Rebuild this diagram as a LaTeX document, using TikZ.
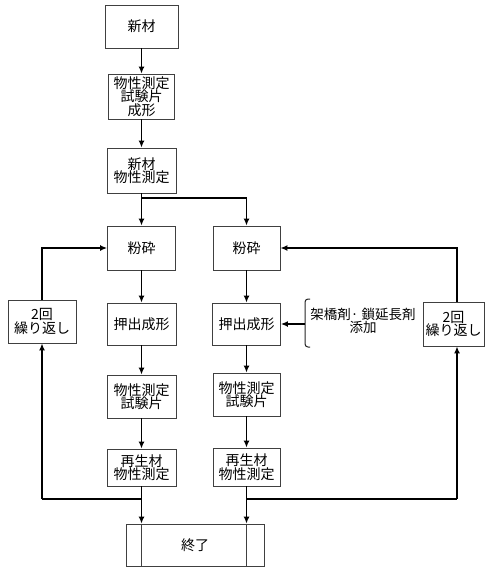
\documentclass[tikz,border=0pt]{standalone}
\usepackage{fontspec}
\newfontfamily\jp{Noto Sans CJK JP}
\usetikzlibrary{arrows.meta}
\begin{document}
\begin{tikzpicture}[x=1pt,y=-1pt,
  box/.style={draw=black!75, line width=0.8pt, fill=white, inner sep=0pt,
    align=center, font=\jp\fontsize{14}{13.5}\selectfont},
  flow/.style={line width=1.4pt, -{Latex[length=7pt,width=6pt]}},
  plain/.style={line width=1.4pt},
  lbl/.style={align=center, inner sep=0pt, font=\jp\fontsize{13.5}{13.5}\selectfont}]
\useasboundingbox (0,0) rectangle (487,567);
\fill[white] (0,0) rectangle (487,567);
% left column
\node[box, minimum width=73pt, minimum height=43pt] (shin) at (141.5,26.5) {新材};
\node[box, minimum width=66pt, minimum height=45pt] (sei) at (141.5,96.5) {物性測定\\試験片\\成形};
\node[box, minimum width=69pt, minimum height=45pt] (shinb) at (141.5,170.5) {新材\\物性測定};
\node[box, minimum width=68pt, minimum height=44pt] (funL) at (141.5,248) {粉砕};
\node[box, minimum width=69pt, minimum height=42pt] (oshiL) at (141.5,324) {押出成形};
\node[box, minimum width=69pt, minimum height=43pt] (butL) at (141.5,396.5) {物性測定\\試験片};
\node[box, minimum width=69pt, minimum height=37pt] (saiL) at (141.5,467.5) {再生材\\物性測定};
% right column
\node[box, minimum width=67pt, minimum height=44pt] (funR) at (246.5,248) {粉砕};
\node[box, minimum width=68pt, minimum height=42pt] (oshiR) at (246.5,324) {押出成形};
\node[box, minimum width=67pt, minimum height=43pt] (butR) at (246.5,394.5) {物性測定\\試験片};
\node[box, minimum width=67pt, minimum height=38pt] (saiR) at (246.5,467) {再生材\\物性測定};
% repeat boxes
\node[box, minimum width=68pt, minimum height=43pt] (repL) at (42,321.5) {2回\\繰り返し};
\node[box, minimum width=61pt, minimum height=44pt] (repR) at (453.5,324) {2回\\繰り返し};
% end box
\node[box, minimum width=138pt, minimum height=42pt] (end) at (195,545) {終了};
\draw[black!75, line width=0.8pt] (end.north -| funL) -- (end.south -| funL);
\draw[black!75, line width=0.8pt] (end.north -| funR) -- (end.south -| funR);
% additive label
\node[lbl] (add) at (363,321) {架橋剤· 鎖延長剤\\添加};
\coordinate (brk) at (305,324);
\draw[black!85, line width=1pt, rounded corners=3pt] (310,299) -- (305,299) -- (305,347) -- (310,347);
% coordinates
\coordinate (split) at (141.5,198);
\coordinate (mL) at (141.5,499);
\coordinate (mR) at (246.5,499);
\coordinate (loopL) at (42,499);
\coordinate (loopR) at (457,499);
% flows
\draw[flow] (shin) -- (sei);
\draw[flow] (sei) -- (shinb);
\draw[flow] (shinb) -- (funL);
\draw[flow] (split) -| (funR.north);
\draw[flow] (funL) -- (oshiL);
\draw[flow] (oshiL) -- (butL);
\draw[flow] (butL) -- (saiL);
\draw[flow] (saiL) -- (end.north -| saiL);
\draw[flow] (funR) -- (oshiR);
\draw[flow] (oshiR) -- (butR);
\draw[flow] (butR) -- (saiR);
\draw[flow] (saiR) -- (end.north -| saiR);
\draw[flow] (brk) -- (oshiR.east);
% loops
\draw[plain] (loopL) -- (mL);
\draw[flow] (loopL) -- (repL.south);
\draw[flow] (repL.north) |- (funL.west);
\draw[plain] (mR) -- (loopR);
\draw[flow] (loopR) -- (loopR |- repR.south);
\draw[flow] (loopR |- repR.north) |- (funR.east);
\end{tikzpicture}
\end{document}
